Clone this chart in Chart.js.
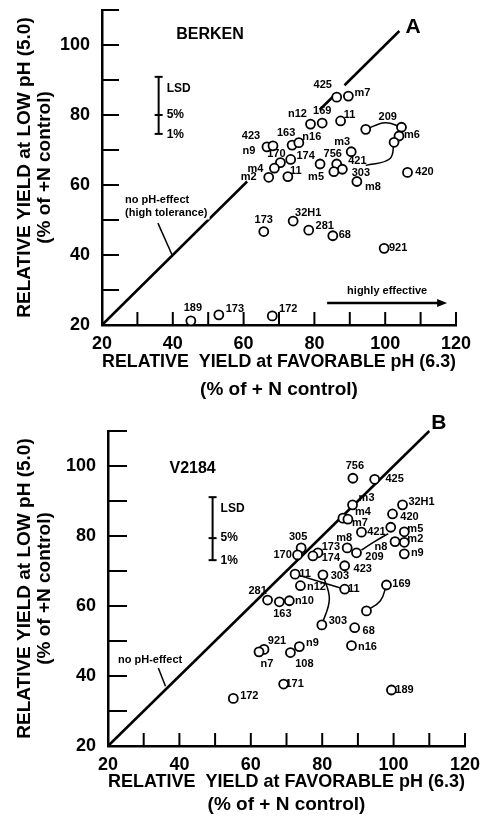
<!DOCTYPE html>
<html>
<head>
<meta charset="utf-8">
<script src="https://cdn.jsdelivr.net/npm/chart.js@4.4.1/dist/chart.umd.min.js"></script>
<style>
  html, body { margin: 0; padding: 0; background: #fff; }
  .panel { position: relative; width: 492px; height: 410px; }
</style>
</head>
<body>
<div class="panel"><canvas id="graficoA"></canvas></div>
<div class="panel"><canvas id="graficoB"></canvas></div>
<script>
// ---------- datos panel A (BERKEN)
const etiquetasA = ['425','m7','n12','169','11','209','','m6','','n9','423','163','n16','170','174','m4','m2','11','m5','m3','756','421','303','m8','420','173','32H1','281','68','921','189','173','172'];
const xA = [86.3,89.6,78.9,82.2,87.4,94.5,104.6,103.9,102.5,66.6,68.3,73.7,75.6,70.4,73.3,68.7,67.1,72.5,81.6,90.4,86.3,87.9,85.5,92.0,106.3,65.7,74.0,78.4,85.2,99.7,45.1,53.0,68.1];
const yA = [85.1,85.4,77.4,77.7,78.3,75.9,76.5,74.0,72.2,70.9,71.2,71.4,72.1,66.4,67.3,64.8,62.2,62.4,66.0,69.5,66.0,64.5,63.8,61.0,63.6,46.7,49.7,47.1,45.5,41.9,21.2,22.9,22.6];
// lineas que unen puntos
const unionesA = [
  { x: [94.5, 100.0, 104.6], y: [75.9, 77.8, 76.5] },
  { x: [102.5, 101.3, 94.5], y: [72.2, 67.5, 65.6] }
];
// tramos visibles de la recta 1:1
const tramosA = [[20, 61], [81.5, 86], [88.5, 104]];

// ---------- datos panel B (V2184)
const etiquetasB = ['756','425','m3','m4','m7','421','','32H1','420','m5','m2','n8','n9','m8','209','173','174','423','305','170','11','303','11','n12','n10','169','','281','163','303','68','n16','n9','108','921','n7','171','189','172'];
const xB = [88.6,94.7,88.5,85.8,87.2,91.0,99.2,102.5,99.7,103.0,103.0,100.4,103.0,87.0,89.6,78.8,77.4,86.3,74.1,73.1,72.4,80.2,86.3,73.9,70.8,98.0,92.4,64.7,68.0,79.9,89.1,88.2,73.6,71.1,63.7,62.3,69.2,99.4,55.1];
const yB = [96.5,96.2,88.9,85.1,84.8,81.1,82.5,88.9,86.3,81.2,78.2,78.4,74.9,76.6,75.2,75.2,74.3,71.5,76.6,74.6,69.1,68.9,64.8,65.8,61.5,66.0,58.6,61.7,61.2,54.6,53.8,48.7,48.4,46.7,47.6,46.9,37.7,36.0,33.6];
const unionesB = [
  { x: [72.4, 86.3], y: [69.1, 64.8] },
  { x: [80.2, 82.0, 79.9], y: [68.9, 62.0, 54.6] },
  { x: [98.0, 96.3, 92.4], y: [66.0, 61.5, 58.6] },
  { x: [91.0, 95.0, 98.5], y: [76.0, 78.6, 80.7] }
];
const tramosB = [[20, 110]];

const ticksEtiquetaX = [20, 40, 60, 80, 100, 120];
const ticksEtiquetaY = [20, 40, 60, 80, 100];

// desplazamiento de cada rotulo respecto de su punto (px)
const desplazA = [[-14,-12],[14,-3],[-13,-10],[0,-12],[9,-6],[22,-12],[0,0],[13,-1],[0,0],[-18,4],[-22,-10],[-6,-12],[13,-6],[-4,-9],[15,-3],[-19,1],[-20,0],[8,-6],[-4,13],[-9,-10],[-4,-10],[15,-8],[27,1],[16,5],[17,0],[0,-12],[15,-8],[16,-4],[12,-1],[14,0],[2,-13],[16,-6],[16,-7]];
const desplazB = [[2,-12],[20,0],[14,-7],[20,-6],[12,4],[15,0],[0,0],[19,-3],[17,3],[11,-3],[11,-3],[-14,5],[13,-1],[-3,-10],[18,4],[13,-6],[18,2],[18,3],[-3,-11],[-15,0],[10,0],[17,1],[9,0],[16,1],[15,0],[15,-1],[0,0],[-10,-9],[3,12],[16,-4],[14,3],[16,1],[13,-4],[14,11],[13,-8],[8,12],[11,0],[13,0],[16,-2]];

const fuente = "'Liberation Sans', Arial, sans-serif";

function texto(ctx, txt, x, y, size, align, fondo) {
    ctx.font = `bold ${size}px ${fuente}`;
    ctx.textAlign = align || 'center';
    ctx.textBaseline = 'middle';
    if (fondo) {
        const w = ctx.measureText(txt).width;
        const x0 = align === 'left' ? x : x - w / 2;
        ctx.fillStyle = '#fff';
        ctx.fillRect(x0 - 2, y - size / 2 - 1, w + 4, size + 2);
    }
    ctx.fillStyle = '#000';
    ctx.fillText(txt, x, y);
}

function linea(ctx, x1, y1, x2, y2, w) {
    ctx.lineWidth = w;
    ctx.beginPath();
    ctx.moveTo(x1, y1);
    ctx.lineTo(x2, y2);
    ctx.stroke();
}

// plugin que dibuja marcas hacia adentro, rotulos y notas
const crearPlugin = (cfg) => ({
    id: 'extras' + cfg.id,
    afterDraw(chart) {
        const { ctx, scales: { x, y } } = chart;
        const px = v => x.getPixelForValue(v), py = v => y.getPixelForValue(v);
        ctx.save();
        ctx.strokeStyle = '#000';
        ctx.fillStyle = '#000';
        for (let v = 30; v <= 120; v += 10) linea(ctx, px(v), y.bottom, px(v), y.bottom - cfg.tickX, 2);
        for (let v = 30; v <= 110; v += 10) linea(ctx, x.left, py(v), x.left + cfg.tickY, py(v), 2);

        // rotulos de los puntos
        const meta = chart.getDatasetMeta(0);
        meta.data.forEach((pt, i) => {
            if (!cfg.etiquetas[i]) return;
            const [dx, dy] = cfg.desplaz[i];
            texto(ctx, cfg.etiquetas[i], pt.x + dx, pt.y + dy, 11);
        });

        // titulo del panel y letra
        texto(ctx, cfg.titulo, px(cfg.tituloPos[0]), py(cfg.tituloPos[1]), 16);
        texto(ctx, cfg.letra, px(cfg.letraPos[0]), py(cfg.letraPos[1]), 21);

        // barra LSD
        const lx = px(cfg.lsd.x);
        const [ya, ym, yb] = [py(cfg.lsd.arriba), py(cfg.lsd.medio), py(cfg.lsd.abajo)];
        linea(ctx, lx, ya, lx, yb, 2);
        [ya, ym, yb].forEach(yy => linea(ctx, lx - 4, yy, lx + 4, yy, 2));
        texto(ctx, 'LSD', lx + 8, ya + 12, 12, 'left');
        texto(ctx, '5%', lx + 8, ym, 12, 'left');
        texto(ctx, '1%', lx + 8, yb + 1, 12, 'left');

        // nota "no pH-effect"
        cfg.notas.forEach(n => texto(ctx, n.t, px(n.x), py(n.y), 11, 'left', cfg.fondoNotas));
        linea(ctx, px(cfg.guia[0][0]), py(cfg.guia[0][1]), px(cfg.guia[1][0]), py(cfg.guia[1][1]), 1.5);

        // flecha "highly effective"
        if (cfg.flecha) {
            const f = cfg.flecha;
            const x1 = px(f.x1), x2 = px(f.x2), yy = py(f.y);
            linea(ctx, x1, yy, x2 - 6, yy, 2.5);
            ctx.beginPath();
            ctx.moveTo(x2, yy);
            ctx.lineTo(x2 - 10, yy - 4);
            ctx.lineTo(x2 - 10, yy + 4);
            ctx.closePath();
            ctx.fill();
            texto(ctx, f.t, (x1 + x2) / 2, py(f.ty), 11);
        }
        ctx.restore();
    }
});

const armarDatos = (etq, xs, ys, uniones, tramos) => {
    const sets = [{
        type: 'scatter',
        data: xs.map((v, i) => ({ x: v, y: ys[i] })),
        pointRadius: 4.5,
        pointBorderWidth: 1.8,
        pointBorderColor: '#000',
        pointBackgroundColor: '#fff',
        order: 0
    }];
    tramos.forEach(t => sets.push({
        type: 'line',
        data: [{ x: t[0], y: t[0] }, { x: t[1], y: t[1] }],
        borderColor: '#000', borderWidth: 2.5, pointRadius: 0, clip: false, order: 2
    }));
    uniones.forEach(u => sets.push({
        type: 'line',
        data: u.x.map((v, i) => ({ x: v, y: u.y[i] })),
        borderColor: '#000', borderWidth: 1.5, pointRadius: 0, tension: 0.4, order: 1
    }));
    return { datasets: sets };
};

const opciones = (cfg) => ({
    responsive: true,
    maintainAspectRatio: false,
    animation: false,
    layout: { padding: { top: cfg.padTop, right: cfg.padRight, left: 0, bottom: 0 } },
    plugins: { legend: { display: false }, tooltip: { enabled: false } },
    scales: {
        x: {
            type: 'linear', min: 20, max: 120,
            afterFit: s => { s.height = cfg.altoX; s.paddingLeft = 0; s.paddingRight = 0; },
            afterBuildTicks: s => { s.ticks = [20,30,40,50,60,70,80,90,100,110,120].map(v => ({ value: v })); },
            ticks: {
                autoSkip: false, maxRotation: 0, padding: 8, color: '#000',
                font: { size: 18, weight: 'bold', family: fuente },
                callback: v => ticksEtiquetaX.includes(v) ? v : ''
            },
            grid: { drawOnChartArea: false, drawTicks: false },
            border: { color: '#000', width: 2.5 },
            title: {
                display: true, color: '#000',
                text: ['RELATIVE  YIELD at FAVORABLE pH (6.3)', '(% of + N control)'],
                font: { size: 19, weight: 'bold', family: fuente, lineHeight: cfg.lhX },
                padding: { top: 0, bottom: cfg.padTituloX }
            }
        },
        y: {
            type: 'linear', min: 20, max: 110,
            afterFit: s => { s.width = cfg.anchoY; s.paddingTop = 0; s.paddingBottom = 0; },
            afterBuildTicks: s => { s.ticks = [20,30,40,50,60,70,80,90,100,110].map(v => ({ value: v })); },
            ticks: {
                autoSkip: false, padding: 12, color: '#000',
                font: { size: 18, weight: 'bold', family: fuente },
                callback: v => ticksEtiquetaY.includes(v) ? v : ''
            },
            grid: { drawOnChartArea: false, drawTicks: false },
            border: { color: '#000', width: 2.5 },
            title: {
                display: true, color: '#000',
                text: ['RELATIVE YIELD at LOW pH (5.0)', '(% of +N control)'],
                font: { size: 19, weight: 'bold', family: fuente, lineHeight: 1.05 },
                padding: { top: 15, bottom: 0 }
            }
        }
    }
});

const cfgA = {
    id: 'A', etiquetas: etiquetasA, desplaz: desplazA, tickX: 13, tickY: 17,
    titulo: 'BERKEN', tituloPos: [50.5, 102.9], letra: 'A', letraPos: [107.9, 105.1],
    lsd: { x: 36, arriba: 90.9, medio: 80, abajo: 74.6 },
    notas: [{ t: 'no pH-effect', x: 26.5, y: 55.7 }, { t: '(high tolerance)', x: 26.5, y: 52 }],
    fondoNotas: true,
    guia: [[35.8, 49.1], [39.8, 40]],
    flecha: { x1: 83.6, x2: 117.5, y: 26.3, ty: 29.6, t: 'highly effective' },
    padTop: 10, padRight: 36, altoX: 85, anchoY: 102, lhX: 1.45, padTituloX: 6.5
};
const cfgB = {
    id: 'B', etiquetas: etiquetasB, desplaz: desplazB, tickX: 13, tickY: 19,
    titulo: 'V2184', tituloPos: [43.7, 99.4], letra: 'B', letraPos: [112.7, 112.3],
    lsd: { x: 49.3, arriba: 91.1, medio: 79.4, abajo: 73.1 },
    notas: [{ t: 'no pH-effect', x: 22.8, y: 44.6 }],
    fondoNotas: false,
    guia: [[34.1, 42.3], [36.1, 37.1]],
    flecha: null,
    padTop: 21, padRight: 27, altoX: 74, anchoY: 108, lhX: 1.25, padTituloX: 3
};

new Chart(document.querySelector('#graficoA'), {
    type: 'scatter',
    data: armarDatos(etiquetasA, xA, yA, unionesA, tramosA),
    options: opciones(cfgA),
    plugins: [crearPlugin(cfgA)]
});
new Chart(document.querySelector('#graficoB'), {
    type: 'scatter',
    data: armarDatos(etiquetasB, xB, yB, unionesB, tramosB),
    options: opciones(cfgB),
    plugins: [crearPlugin(cfgB)]
});
</script>
</body>
</html>
